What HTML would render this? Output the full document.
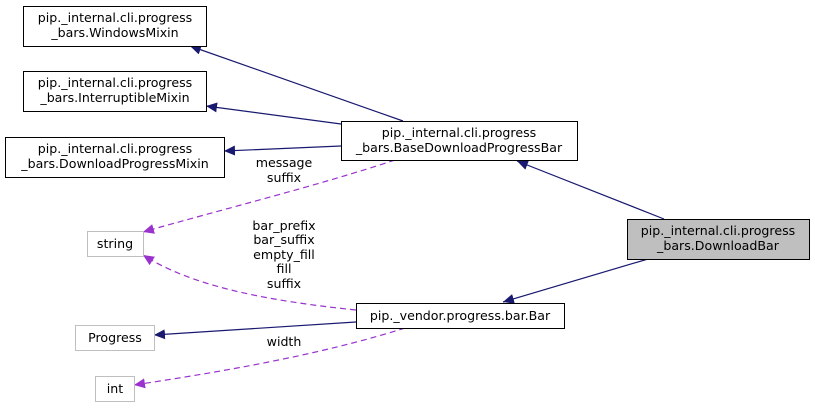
<!DOCTYPE html>
<html><head><style>
body{margin:0;background:#fff}
svg text{font-family:"DejaVu Sans","Liberation Sans",sans-serif;font-size:12.6px}
</style></head><body>
<svg width="815" height="407" viewBox="0 0 815 407" xmlns="http://www.w3.org/2000/svg">
<defs>
<marker id="a" markerWidth="12" markerHeight="10" refX="11" refY="5" orient="auto" markerUnits="userSpaceOnUse"><path d="M0,0 L11,5 L0,10 z" fill="#191970"/></marker>
<marker id="p" markerWidth="12" markerHeight="10" refX="11" refY="5" orient="auto" markerUnits="userSpaceOnUse"><path d="M0,0 L11,5 L0,10 z" fill="#9a32cd"/></marker>
</defs>
<g fill="none" stroke="#191970" stroke-width="1.2">
<path d="M403,121 L190,46" marker-end="url(#a)"/>
<path d="M341,124 L206,106" marker-end="url(#a)"/>
<path d="M341,146 L224,151" marker-end="url(#a)"/>
<path d="M664,219 L517,161" marker-end="url(#a)"/>
<path d="M648,259 L503,302" marker-end="url(#a)"/>
<path d="M356,322 L154,335" marker-end="url(#a)"/>
</g>
<g fill="none" stroke="#9a32cd" stroke-width="1.2" stroke-dasharray="6,4">
<path d="M395,160 C320,185 220,210 143,232" marker-end="url(#p)"/>
<path d="M356,310 C260,300 190,285 143,255" marker-end="url(#p)"/>
<path d="M405,328 C320,355 220,372 134,385" marker-end="url(#p)"/>
</g>
<g stroke-width="1">
<rect x="23.5" y="6.5" width="183" height="40" fill="#fff" stroke="#000"/>
<rect x="23.5" y="71.5" width="183" height="40" fill="#fff" stroke="#000"/>
<rect x="5.5" y="137.5" width="219" height="40" fill="#fff" stroke="#000"/>
<rect x="341.5" y="121.5" width="236" height="39" fill="#fff" stroke="#000"/>
<rect x="627.5" y="219.5" width="182" height="40" fill="#bfbfbf" stroke="#000"/>
<rect x="356.5" y="303.5" width="208" height="25" fill="#fff" stroke="#000"/>
<rect x="87.5" y="231.5" width="56" height="25" fill="#fff" stroke="#bfbfbf"/>
<rect x="75.5" y="325.5" width="79" height="25" fill="#fff" stroke="#bfbfbf"/>
<rect x="95.5" y="376.5" width="39" height="25" fill="#fff" stroke="#bfbfbf"/>
</g>
<g fill="#000" text-anchor="middle">
<text x="115" y="22">pip._internal.cli.progress</text><text x="115" y="37">_bars.WindowsMixin</text>
<text x="115" y="87">pip._internal.cli.progress</text><text x="115" y="102">_bars.InterruptibleMixin</text>
<text x="115" y="153">pip._internal.cli.progress</text><text x="115" y="168">_bars.DownloadProgressMixin</text>
<text x="459" y="137">pip._internal.cli.progress</text><text x="459" y="152">_bars.BaseDownloadProgressBar</text>
<text x="718" y="235">pip._internal.cli.progress</text><text x="718" y="250">_bars.DownloadBar</text>
<text x="460" y="320">pip._vendor.progress.bar.Bar</text>
<text x="115" y="248">string</text>
<text x="115" y="342">Progress</text>
<text x="115" y="393">int</text>
<text x="284" y="167">message</text><text x="284" y="182">suffix</text>
<text x="284" y="230">bar_prefix</text><text x="284" y="244">bar_suffix</text><text x="284" y="259">empty_fill</text><text x="284" y="273">fill</text><text x="284" y="288">suffix</text>
<text x="284" y="346">width</text>
</g>
</svg>
</body></html>
